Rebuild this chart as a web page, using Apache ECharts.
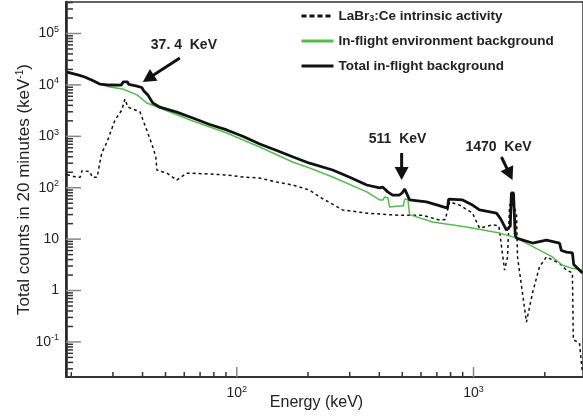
<!DOCTYPE html>
<html><head><meta charset="utf-8">
<script src="https://cdn.jsdelivr.net/npm/echarts@6/dist/echarts.min.js"></script>
<style>html,body{margin:0;padding:0;background:#fff}#c{width:583px;height:419px}</style>
</head><body><div id="c"></div>
<script>
// ---- data (energy in keV, counts per keV in 20 min) ----
const seriesNames = ['LaBr3:Ce intrinsic activity', 'In-flight environment background', 'Total in-flight background'];

const intrinsicE = [19.2,21.0,21.8,22.2,24.0,24.5,25.7,26.9,28.3,30.6,32.7,33.7,34.7,39.0,40.9,42.1,44.2,45.5,46.0,50.7,55.8,61.5,76.9,90.7,106,125,147.5,172,203,224,280,354,487,609,719,760,792,873,990,1060,1203,1280,1352,1392,1420,1447,1519,1534,1673,1774,1899,2032,2307,2469,2616,2640,2802,2884];
const intrinsicC = [180,160,160,215,205,160,160,475,770,2080,3250,5300,3700,3000,1660,1160,620,400,220,192,141,192,185,177,162,154,129,113,90,66,37,32,29,29,23.5,24,53,46,32,16.4,19,18,2.5,4.5,45,53,32,4.5,0.244,0.89,2.9,4.5,3.4,2.5,2.2,0.11,0.095,0.025];

const envE = [19.2,22.8,26.4,29.1,33.0,37.9,41.7,47.3,65.2,90.7,125,172,203,254,354,401,415,421,435,442,487,505,512,528,537,671,934,1288,1519,1899,2154,2375,2616,2884];
const envC = [17800,14250,10400,9100,8300,6400,4450,3550,1985,1160,620,316,242,162,83,58,58,66,64,42,44,44,60,60,30,21.5,17.2,13.1,10.5,6.1,4.5,3.1,2.7,2.5];

const totalE = [19.2,21.5,22.8,24.5,26.4,29.1,32.5,33.2,34.5,35.0,37.9,39.7,40.5,42.1,44.2,47.3,55.8,65.2,76.9,90.7,106,125,147.5,172,203,254,300,354,401,413,421,434,455,487,500,512,522,537,633,777,785,800,899,990,1060,1250,1300,1378,1430,1445,1475,1500,1519,1774,2032,2307,2350,2469,2616,2650,2884];
const totalC = [17800,15500,14250,12300,10400,9950,9900,11500,11500,10200,9500,8900,7600,6400,4450,3700,2950,2270,1700,1330,1000,710,530,400,300,221,160,113,99,103,95,83,72,72,80,94,90,58,53,40,60,63,58,46,37,32,25,15,18,79,79,12,10.5,8.4,9.6,8.4,6,5.6,5.4,3.2,2.2];

// axis ranges and ticks
const X_MIN = 19, X_MAX = 2900;
const Y_MIN = 0.0208, Y_MAX = 410000;
const xMajorTicks = [100, 1000];
const xMinorTicks = [20,30,40,50,60,70,80,90,200,300,400,500,600,700,800,900,2000];
const yMajorTicks = [0.1, 1, 10, 100, 1000, 10000, 100000];

// annotations: arrow tail (E,C), arrow tip (E,C), label centre (E,C)
const annLabels = ['37. 4  KeV', '511  KeV', '1470  KeV'];
const annTailE = [57.5, 497, 1312];
const annTailC = [33400, 473, 396];
const annTipE  = [40.1, 497, 1461];
const annTipC  = [11390, 141, 141];
const annTextE = [59.8, 478, 1275];
const annTextC = [59700, 885, 619];

// ---- build ----
const zip = (a, b) => a.map((v, i) => [v, b[i]]);
const yMinorTicks = [];
for (let k = -2; k <= 5; k++) for (let m = 2; m <= 9; m++) {
  const v = m * Math.pow(10, k);
  if (v > Y_MIN && v < Y_MAX) yMinorTicks.push(v);
}
const tickData = [];
xMinorTicks.forEach(v => tickData.push([v, Y_MIN, 0]));
xMajorTicks.forEach(v => tickData.push([v, Y_MIN, 1]));
yMinorTicks.forEach(v => tickData.push([X_MIN, v, 2]));
yMajorTicks.forEach(v => tickData.push([X_MIN, v, 3]));

const annData = annLabels.map((t, i) => [annTailE[i], annTailC[i], annTipE[i], annTipC[i], annTextE[i], annTextC[i], i]);

const FONT = '"Liberation Sans", Arial, Helvetica, sans-serif';

function powLabel(v) {
  const e = Math.round(Math.log10(v));
  if (Math.abs(v / Math.pow(10, e) - 1) > 1e-6) return '';
  if (e === 0) return '1';
  if (e === 1) return '10';
  return '10{sup|' + e + '}';
}
const labelRich = { sup: { fontSize: 9, padding: [0, 0, 8, 0], fontFamily: FONT, color: '#222' } };

const chart = echarts.init(document.getElementById('c'), null, { renderer: 'canvas' });
chart.setOption({
  animation: false,
  backgroundColor: '#fff',
  grid: { left: 66, right: 0, top: 2, bottom: 42, show: true, borderColor: '#333', borderWidth: 1.5, outerBoundsMode: 'none', containLabel: false },
  legend: {
    data: [
      { name: seriesNames[0], lineStyle: { type: [5, 3], width: 3 } },
      { name: seriesNames[1] },
      { name: seriesNames[2] }
    ],
    orient: 'vertical', left: 300, top: 9, padding: 0,
    itemWidth: 32, itemHeight: 12, itemGap: 11,
    itemStyle: { color: 'rgba(0,0,0,0)', borderColor: 'rgba(0,0,0,0)', borderWidth: 0 },
    lineStyle: { width: 3 },
    formatter: n => n === seriesNames[0] ? 'LaBr{sub|3}:Ce intrinsic activity' : n,
    textStyle: { fontFamily: FONT, fontWeight: 'bold', fontSize: 13.5, color: '#222',
      rich: { sub: { fontSize: 9, fontWeight: 'bold', fontFamily: FONT, color: '#222', padding: [5, 0, 0, 0] } } }
  },
  xAxis: {
    type: 'log', logBase: 10, min: X_MIN, max: X_MAX,
    name: 'Energy (keV)', nameLocation: 'middle', nameGap: 18, nameMoveOverlap: false,
    nameTextStyle: { fontFamily: FONT, fontSize: 16, color: '#222', verticalAlign: 'top', padding: [0, 16, 0, 0] },
    axisLine: { show: true, lineStyle: { color: '#333', width: 2 } },
    axisTick: { show: false },
    splitLine: { show: false },
    axisLabel: { formatter: powLabel, fontFamily: FONT, fontSize: 14, color: '#222', margin: 8, rich: labelRich, showMinLabel: false, showMaxLabel: false }
  },
  yAxis: {
    type: 'log', logBase: 10, min: Y_MIN, max: Y_MAX,
    name: 'Total counts in 20 minutes (keV{sup|-1})', nameLocation: 'middle', nameGap: 33, nameRotate: 90, nameMoveOverlap: false,
    nameTextStyle: { fontFamily: FONT, fontSize: 17, color: '#222', rich: { sup: { fontSize: 10, fontFamily: FONT, color: '#222', padding: [0, 0, 8, 0] } } },
    axisLine: { show: true, lineStyle: { color: '#222', width: 2.5 } },
    axisTick: { show: false },
    splitLine: { show: false },
    axisLabel: { formatter: powLabel, fontFamily: FONT, fontSize: 14, color: '#222', margin: 7, rich: labelRich, showMinLabel: false, showMaxLabel: false }
  },
  series: [
    { name: seriesNames[0], type: 'line', data: zip(intrinsicE, intrinsicC), symbol: 'none', showSymbol: false,
      lineStyle: { color: '#111', width: 1.5, type: [3, 3] }, itemStyle: { color: '#111' }, z: 3 },
    { name: seriesNames[1], type: 'line', data: zip(envE, envC), symbol: 'none', showSymbol: false,
      lineStyle: { color: '#55bb50', width: 1.5 }, itemStyle: { color: '#55bb50' }, z: 4 },
    { name: seriesNames[2], type: 'line', data: zip(totalE, totalC), symbol: 'none', showSymbol: false,
      lineStyle: { color: '#111', width: 2.8 }, itemStyle: { color: '#111' }, z: 5 },
    { type: 'custom', data: tickData, encode: { x: 0, y: 1 }, silent: true, z: 6,
      renderItem: (params, api) => {
        const p = api.coord([api.value(0), api.value(1)]);
        const kind = api.value(2);
        let shape;
        if (kind < 2) { const len = kind === 1 ? 10 : 5; shape = { x1: p[0], y1: p[1], x2: p[0], y2: p[1] - len }; }
        else { const len = kind === 3 ? 15 : 7; shape = { x1: p[0], y1: p[1], x2: p[0] + len, y2: p[1] }; }
        return { type: 'line', shape, style: { stroke: (kind === 1 || kind === 3) ? '#888' : '#333', lineWidth: 1.5 } };
      } },
    { type: 'custom', data: annData, encode: { x: 0, y: 1 }, silent: true, z: 7,
      renderItem: (params, api) => {
        const a = api.coord([api.value(0), api.value(1)]);
        const b = api.coord([api.value(2), api.value(3)]);
        const t = api.coord([api.value(4), api.value(5)]);
        const dx = b[0] - a[0], dy = b[1] - a[1];
        const L = Math.sqrt(dx * dx + dy * dy);
        const ux = dx / L, uy = dy / L;
        const hl = 13, hw = 7;
        const bx = b[0] - ux * hl, by = b[1] - uy * hl;
        return { type: 'group', children: [
          { type: 'line', shape: { x1: a[0], y1: a[1], x2: bx + ux * 2, y2: by + uy * 2 }, style: { stroke: '#111', lineWidth: 3 } },
          { type: 'polygon', shape: { points: [[b[0], b[1]], [bx - uy * hw, by + ux * hw], [bx + uy * hw, by - ux * hw]] }, style: { fill: '#111' } },
          { type: 'text', style: { text: annLabels[api.value(6)], x: t[0], y: t[1], align: 'center', verticalAlign: 'middle',
            fontFamily: FONT, fontWeight: 'bold', fontSize: 14, fill: '#222' } }
        ] };
      } }
  ]
});
</script>
</body></html>
